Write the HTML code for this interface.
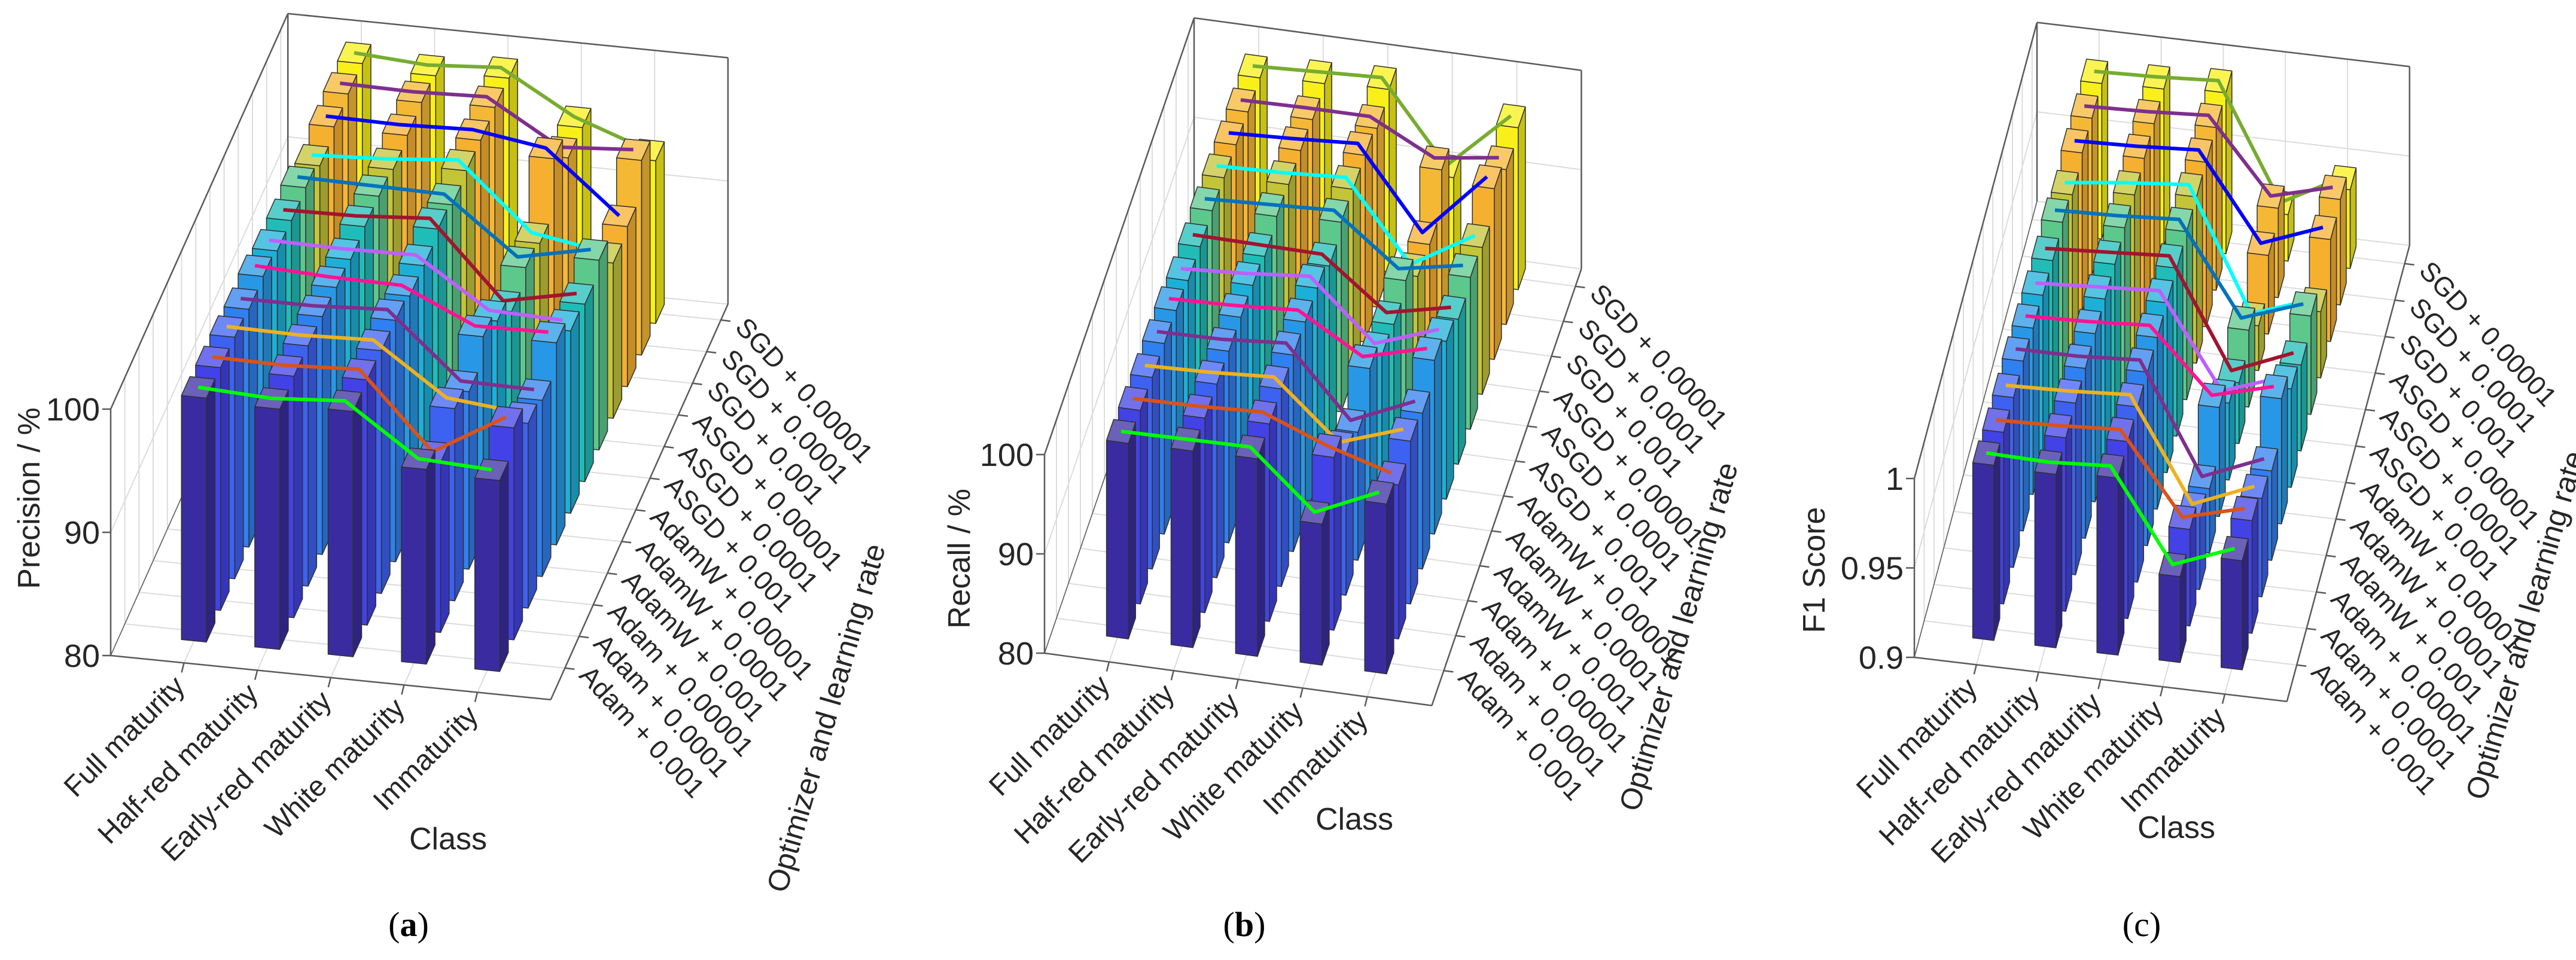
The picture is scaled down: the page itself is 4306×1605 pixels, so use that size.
<!DOCTYPE html>
<html><head><meta charset="utf-8"><style>
html,body{margin:0;padding:0;background:#fff;}
svg{display:block;font-family:"Liberation Sans",sans-serif;}
</style></head><body>
<svg id="fig" width="4306" height="1605" viewBox="0 0 4306 1605" xmlns="http://www.w3.org/2000/svg"></svg>
<script>
const classes = ["Full maturity","Half-red maturity","Early-red maturity","White maturity","Immaturity"];
const optimizers = ["Adam + 0.001","Adam + 0.0001","Adam + 0.00001","AdamW + 0.001","AdamW + 0.0001","AdamW + 0.00001","ASGD + 0.001","ASGD + 0.0001","ASGD + 0.00001","SGD + 0.001","SGD + 0.0001","SGD + 0.00001"];
const precision = [
[99.8,99.5,99.9,95.8,95.5],[99.7,99.6,99.9,93.8,97.2],[99.6,99.5,99.7,95.6,95.0],[99.3,99.3,99.6,94.4,94.3],
[99.4,99.1,99.0,96.3,96.4],[98.9,98.8,98.9,95.0,94.8],[98.8,98.9,99.3,93.2,94.4],[98.9,98.8,98.7,94.2,95.4],
[98.1,98.4,98.9,93.6,92.6],[98.7,98.6,98.8,97.9,93.0],[98.8,98.7,98.9,95.4,95.8],[98.7,98.3,98.7,95.3,93.2]];
const recall = [
[99.7,99.8,99.9,94.2,97.1],[99.5,99.6,99.9,97.4,95.5],[99.3,99.5,99.9,94.2,96.4],[99.2,99.3,99.8,92.9,95.7],
[99.0,99.2,99.6,95.8,97.5],[98.5,98.9,99.5,93.6,95.9],[98.4,98.3,98.2,93.2,94.6],[98.5,98.8,99.1,94.1,95.3],
[98.3,98.5,98.9,91.0,94.8],[98.1,98.4,98.8,90.7,97.2],[97.9,98.0,98.0,94.7,95.6],[97.8,98.1,98.4,90.4,96.3]];
const f1 = [
[0.998,0.997,0.999,0.948,0.961],[0.996,0.997,0.999,0.954,0.963],[0.995,0.996,0.998,0.941,0.955],[0.995,0.995,0.997,0.936,0.950],
[0.993,0.994,0.996,0.961,0.970],[0.991,0.993,0.995,0.943,0.955],[0.990,0.992,0.994,0.934,0.948],[0.991,0.992,0.994,0.943,0.955],
[0.986,0.990,0.993,0.925,0.937],[0.989,0.990,0.992,0.944,0.957],[0.988,0.989,0.991,0.950,0.959],[0.987,0.988,0.990,0.926,0.944]];
const precisionTicks = [80,90,100];
const recallTicks = [80,90,100];
const f1Ticks = [0.9,0.95,1];
const f1TickLabels = ["0.9","0.95","1"];

const barColors = ["#3a2ca0","#4242e6","#3d62f2","#2f80f0","#2898e6","#1cb0d8","#20bdb8","#5cc88c","#c4c438","#f5b030","#f5b834","#f8f018"];
const lineColors = ["#00ff00","#d95319","#edb120","#7e2f8e","#ff1493","#bf5fff","#a2142f","#0072bd","#00ffff","#0000ff","#7e2f8e","#77ac30"];
const NS = "http://www.w3.org/2000/svg";
const svg = document.getElementById("fig");

function shade(hex, f){
  let r=parseInt(hex.substr(1,2),16),g=parseInt(hex.substr(3,2),16),b=parseInt(hex.substr(5,2),16);
  if(f<1){r*=f;g*=f;b*=f;} else {r=r+(255-r)*(f-1);g=g+(255-g)*(f-1);b=b+(255-b)*(f-1);}
  return "rgb("+Math.round(r)+","+Math.round(g)+","+Math.round(b)+")";
}
function mk(tag, parent){ const e=document.createElementNS(NS,tag); parent.appendChild(e); return e; }

const panels = [
 {key:"precision", data:precision, ticks:precisionTicks, tickLabels:["80","90","100"], zmin:80, zmax:100,
  O:[185,1096], ex:[122.6,12.3], dy:[23.7,-52.9], zs:20.6, title:"Precision / %", titlePos:[48,833],
  classLbl:[749,1402], optLbl:[1380,1200], cap:"a", capX:683},
 {key:"recall", data:recall, ticks:recallTicks, tickLabels:["80","90","100"], zmin:80, zmax:100,
  O:[1746,1092], ex:[107.9,14.6], dy:[20,-58.4], zs:16.6, title:"Recall / %", titlePos:[1603,934],
  classLbl:[2264,1369], optLbl:[2805,1064], cap:"b", capX:2080},
 {key:"f1", data:f1, ticks:f1Ticks, tickLabels:f1TickLabels, zmin:0.9, zmax:1,
  O:[3200,1099], ex:[103.8,12.3], dy:[16.4,-61], zs:2990, title:"F1  Score", titlePos:[3032,953],
  classLbl:[3638,1383], optLbl:[4220,1045], cap:"c", capX:3580}
];

panels.forEach(p=>{
  const g = mk("g", svg);
  
  
  const P=(i,j,z)=>[p.O[0]+i*p.ex[0]+j*p.dy[0], p.O[1]+i*p.ex[1]+j*p.dy[1]-(z-p.zmin)*p.zs];
  const line=(a,b,col,w,name)=>{const l=mk("line",g);l.setAttribute("x1",a[0]);l.setAttribute("y1",a[1]);l.setAttribute("x2",b[0]);l.setAttribute("y2",b[1]);l.setAttribute("stroke",col);l.setAttribute("stroke-width",w);
    
    
    return l;};
  const JM=12.5, XM=6, gc="#dcdcdc", ac="#5a5a5a";
  for(let i=1;i<=5;i++){ line(P(i,0,p.zmin),P(i,JM,p.zmin),gc,2,"floor-grid"); line(P(i,JM,p.zmin),P(i,JM,p.zmax),gc,2,"back-grid"); }
  for(let j=1;j<=12;j++){ line(P(0,j,p.zmin),P(XM,j,p.zmin),gc,2,"floor-grid"); line(P(0,j,p.zmin),P(0,j,p.zmax),gc,2,"left-wall-grid"); }
  p.ticks.forEach(t=>{ line(P(0,0,t),P(0,JM,t),gc,2,"left-wall-grid"); line(P(0,JM,t),P(XM,JM,t),gc,2,"back-grid"); });
  line(P(0,0,p.zmin),P(XM,0,p.zmin),ac,2.5,"class-axis");
  line(P(XM,0,p.zmin),P(XM,JM,p.zmin),ac,2.5,"optimizer-axis");
  line(P(0,0,p.zmin),P(0,0,p.zmax),ac,2.5,"value-axis");
  line(P(0,0,p.zmax),P(0,JM,p.zmax),ac,2.5,"box-edge");
  line(P(0,JM,p.zmax),P(XM,JM,p.zmax),ac,2.5,"box-edge");
  line(P(XM,JM,p.zmin),P(XM,JM,p.zmax),ac,2.5,"box-edge");
  line(P(0,0,p.zmin),P(0,JM,p.zmin),ac,1.5,"box-edge");
  line(P(0,JM,p.zmin),P(0,JM,p.zmax),ac,2.5,"box-edge");
  p.ticks.forEach((t,k)=>{
    const a=P(0,0,t); line(a,[a[0]-14,a[1]],ac,2.5,"value-tick");
    const tx=mk("text",g); tx.textContent=p.tickLabels[k];
    tx.setAttribute("x",a[0]-18); tx.setAttribute("y",a[1]+19); tx.setAttribute("text-anchor","end");
    tx.setAttribute("font-size","54"); tx.setAttribute("fill","#262626");
    
    
  });
  classes.forEach((c,k)=>{
    const a=P(k+1,0,p.zmin); line(a,[a[0]-4,a[1]+16],ac,2.5,"class-tick");
    const tx=mk("text",g); tx.textContent=c;
    const x=a[0]+4, y=a[1]+42;
    tx.setAttribute("x",x); tx.setAttribute("y",y); tx.setAttribute("text-anchor","end");
    tx.setAttribute("transform","rotate(-45 "+x+" "+y+")");
    tx.setAttribute("font-size","48"); tx.setAttribute("fill","#262626");
    
    
  });
  optimizers.forEach((o,k)=>{
    const a=P(XM,k+1,p.zmin); line(a,[a[0]+16,a[1]+2],ac,2.5,"optimizer-tick");
    const tx=mk("text",g); tx.textContent=o;
    const x=a[0]+22, y=a[1]+14;
    tx.setAttribute("x",x); tx.setAttribute("y",y);
    tx.setAttribute("transform","rotate(47 "+x+" "+y+")");
    tx.setAttribute("font-size","45"); tx.setAttribute("fill","#262626");
    
    
  });
  const hw=0.17, hd=0.3;
  for(let r=12;r>=1;r--){
    const vals=p.data[r-1], col=barColors[r-1];
    for(let i=1;i<=5;i++){
      const v=Math.min(Math.max(vals[i-1],p.zmin),p.zmax+0.2*(p.zmax-p.zmin));
      const x0=i-hw,x1=i+hw,j0=r-hd,j1=r+hd,z0=p.zmin;
      const poly=(pts,fill,name)=>{const e=mk("polygon",g);e.setAttribute("points",pts.map(q=>q[0].toFixed(1)+","+q[1].toFixed(1)).join(" "));
        e.setAttribute("fill",fill);e.setAttribute("stroke","#303030");e.setAttribute("stroke-width","1.5");e.setAttribute("stroke-linejoin","round");
        
        };
      poly([P(x1,j0,z0),P(x1,j1,z0),P(x1,j1,v),P(x1,j0,v)],shade(col,0.8),"bar-side-"+p.key+"-r"+r+"-c"+i);
      poly([P(x0,j0,z0),P(x1,j0,z0),P(x1,j0,v),P(x0,j0,v)],col,"bar-"+p.key+"-r"+r+"-c"+i);
      poly([P(x0,j0,v),P(x1,j0,v),P(x1,j1,v),P(x0,j1,v)],shade(col,1.25),"bar-top-"+p.key+"-r"+r+"-c"+i);
    }
    const pl=mk("polyline",g);
    pl.setAttribute("points",vals.map((v,k)=>{const q=P(k+1,r,v);return q[0].toFixed(1)+","+q[1].toFixed(1);}).join(" "));
    pl.setAttribute("fill","none"); pl.setAttribute("stroke",lineColors[r-1]); pl.setAttribute("stroke-width","6"); pl.setAttribute("stroke-linejoin","round");
    
    
  }
  const t1=mk("text",g); t1.textContent=p.title;
  t1.setAttribute("x",p.titlePos[0]); t1.setAttribute("y",p.titlePos[1]); t1.setAttribute("text-anchor","middle");
  t1.setAttribute("transform","rotate(-90 "+p.titlePos[0]+" "+p.titlePos[1]+")"); t1.setAttribute("dy","18");
  t1.setAttribute("font-size","52"); t1.setAttribute("fill","#262626");
  
  
  const t2=mk("text",g); t2.textContent="Class";
  t2.setAttribute("x",p.classLbl[0]); t2.setAttribute("y",p.classLbl[1]+18); t2.setAttribute("text-anchor","middle");
  t2.setAttribute("font-size","52"); t2.setAttribute("fill","#262626");
  
  
  const t3=mk("text",g); t3.textContent="Optimizer and learning rate";
  t3.setAttribute("x",p.optLbl[0]); t3.setAttribute("y",p.optLbl[1]); t3.setAttribute("text-anchor","middle"); t3.setAttribute("dy","18");
  t3.setAttribute("transform","rotate(-74 "+p.optLbl[0]+" "+p.optLbl[1]+")");
  t3.setAttribute("font-size","50"); t3.setAttribute("fill","#262626");
  
  
  const cp=mk("text",g);
  cp.setAttribute("x",p.capX); cp.setAttribute("y",1565); cp.setAttribute("text-anchor","middle");
  cp.setAttribute("font-family","'Liberation Serif',serif"); cp.setAttribute("font-size","58"); cp.setAttribute("fill","#000");
  
  
  const s1=mk("tspan",cp); s1.textContent="(";
  const s2=mk("tspan",cp); s2.textContent=p.cap; if(p.cap!=="c") s2.setAttribute("font-weight","bold");
  const s3=mk("tspan",cp); s3.textContent=")";
});
</script>
</body></html>
